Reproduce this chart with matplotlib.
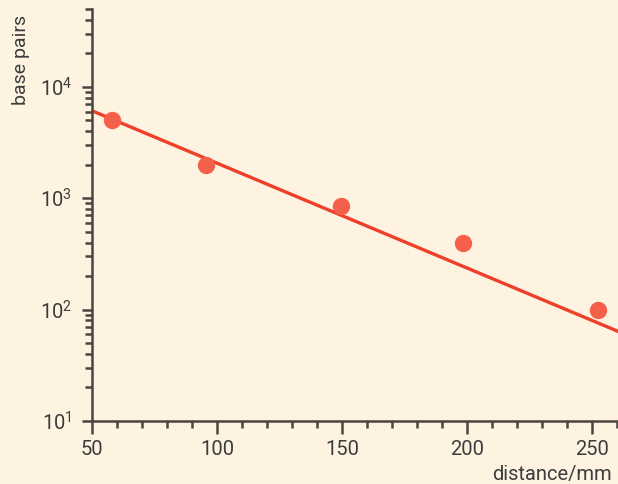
import matplotlib
matplotlib.use("Agg")
import matplotlib.pyplot as plt
from matplotlib.ticker import LogLocator, MultipleLocator, NullFormatter

plt.rcParams['font.family'] = ['Roboto', 'DejaVu Sans']
plt.rcParams['mathtext.fontset'] = 'custom'
plt.rcParams['mathtext.rm'] = 'Roboto'
plt.rcParams['mathtext.it'] = 'Roboto'

# measured points
distance = [58, 95.6, 149.6, 198.4, 252.4]
base_pairs = [5000, 2000, 850, 400, 100]
# fitted line end points
fit_x = [50, 261]
fit_y = [6100, 63]

bg = '#fdf3e0'
ink = '#4a4540'
txt = '#3c3c3c'

fig = plt.figure(figsize=(6.18, 4.84), dpi=100, facecolor=bg)
ax = fig.add_axes([92/618, 63/484, 1 - 92/618, (421 - 9)/484])
ax.set_facecolor(bg)

ax.plot(fit_x, fit_y, color='#ee3f2a', lw=2.4, zorder=2)
ax.plot(distance, base_pairs, 'o', color='#f4604a', ms=12.5, mec='none', zorder=3)

ax.set_yscale('log')
ax.set_xlim(50, 260.4)
ax.set_ylim(10, 5e4)

ax.xaxis.set_major_locator(MultipleLocator(50))
ax.xaxis.set_minor_locator(MultipleLocator(10))
ax.yaxis.set_major_locator(LogLocator(base=10, numticks=10))
ax.yaxis.set_minor_locator(LogLocator(base=10, subs=range(2, 10), numticks=20))
ax.yaxis.set_minor_formatter(NullFormatter())

for s in ['top', 'right']:
    ax.spines[s].set_visible(False)
for s in ['left', 'bottom']:
    ax.spines[s].set_color(ink)
    ax.spines[s].set_linewidth(1.8)

ax.tick_params(axis='x', which='major', length=9, width=1.8, color=ink, pad=5,
               labelsize=14.5, labelcolor=txt)
ax.tick_params(axis='x', which='minor', length=5, width=1.8, color=ink)
ax.tick_params(axis='y', which='major', length=7.5, width=1.8, color=ink, pad=7,
               labelsize=14.5, labelcolor=txt)
ax.tick_params(axis='y', which='minor', length=5, width=1.8, color=ink)

fig.text(0.034, 0.97, 'base pairs', rotation=90, ha='center', va='top',
         fontsize=14, color=txt)
fig.text(0.99, 0.008, 'distance/mm', ha='right', va='baseline',
         fontsize=14.5, color=txt)

fig.savefig('out.png', dpi=100, facecolor=bg)
